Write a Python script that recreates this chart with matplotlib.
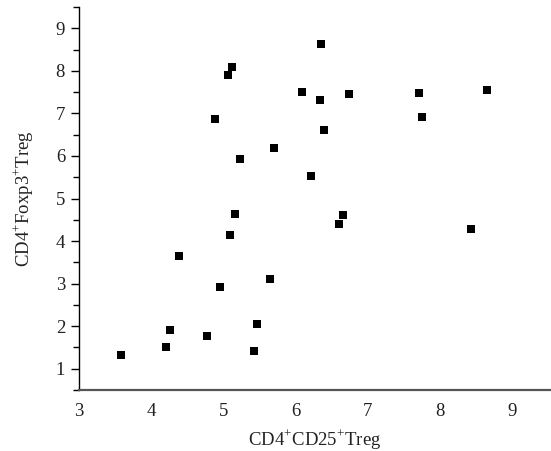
import matplotlib
matplotlib.use("Agg")
import matplotlib.pyplot as plt
from matplotlib.ticker import MultipleLocator

# CD4+CD25+ Treg vs CD4+Foxp3+ Treg, one point per sample
cd25_treg = [3.58, 4.20, 4.26, 4.39, 4.77, 4.95, 4.88, 5.09, 5.06, 5.12,
             5.16, 5.23, 5.47, 5.42, 5.65, 5.70, 6.09, 6.21, 6.34, 6.35,
             6.39, 6.75, 6.60, 6.66, 7.71, 7.75, 8.44, 8.65]
foxp3_treg = [1.33, 1.50, 1.90, 3.64, 1.78, 2.93, 6.87, 4.14, 7.91, 8.08,
              4.63, 5.93, 2.06, 1.42, 3.10, 6.19, 7.51, 5.53, 7.32, 8.64,
              6.61, 7.46, 4.40, 4.61, 7.49, 6.92, 4.28, 7.56]
x_ticks = [3, 4, 5, 6, 7, 8, 9]
y_ticks = [1, 2, 3, 4, 5, 6, 7, 8, 9]

plt.rcParams["font.family"] = ["Liberation Serif", "DejaVu Serif"]
plt.rcParams["mathtext.fontset"] = "custom"
plt.rcParams["mathtext.rm"] = "Liberation Serif"

fig = plt.figure(figsize=(5.51, 4.51), dpi=100)
ax = fig.add_axes([79 / 551, 61 / 451, 471 / 551, 383 / 451])

ax.scatter(cd25_treg, foxp3_treg, marker="s", s=34, color="black", linewidths=0)

ax.set_xlim(3, 9.53)
ax.set_ylim(0.5, 9.5)
ax.set_xticks(x_ticks)
ax.set_yticks(y_ticks)
ax.yaxis.set_minor_locator(MultipleLocator(0.5))

for side in ("top", "right"):
    ax.spines[side].set_visible(False)
ax.spines["left"].set_linewidth(1.0)
ax.spines["left"].set_color("black")
ax.spines["bottom"].set_linewidth(1.6)
ax.spines["bottom"].set_color("#555555")

ax.tick_params(axis="x", length=0, pad=9, labelsize=13.5, labelcolor="#222222")
ax.tick_params(axis="y", which="major", length=6, width=1.0, pad=4,
               labelsize=13.5, labelcolor="#222222")
ax.tick_params(axis="y", which="minor", length=4, width=1.0)

ax.set_xlabel(r"CD4$^{+}$CD25$^{+}$Treg", fontsize=13.5, color="#222222", labelpad=6)
ax.set_ylabel(r"CD4$^{+}$Foxp3$^{+}$Treg", fontsize=13.5, color="#222222", labelpad=14)

fig.savefig("out.png", dpi=100)
